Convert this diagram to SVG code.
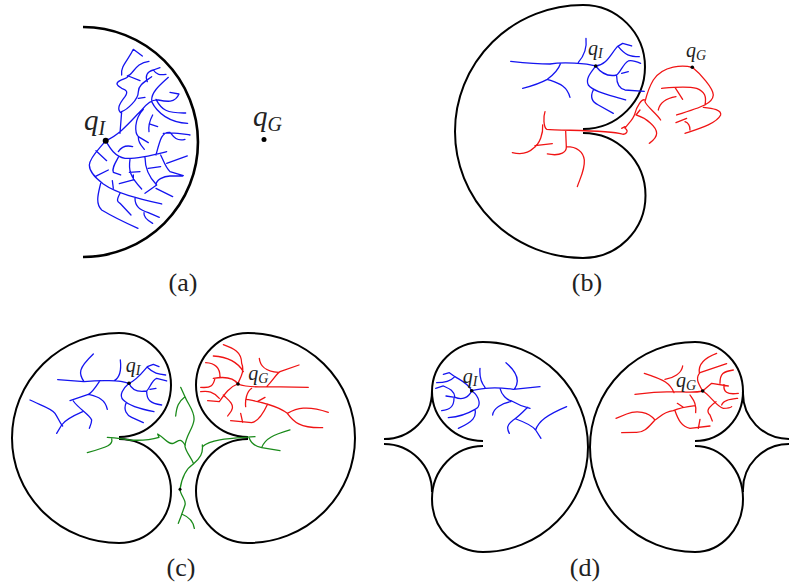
<svg xmlns="http://www.w3.org/2000/svg" width="789" height="585" viewBox="0 0 789 585">
<style>
.o{fill:none;stroke:#000;stroke-width:2;stroke-linecap:butt}
.t{fill:none;stroke-width:3.9;stroke-linecap:round;stroke-linejoin:round}
.b{stroke:#1414f0}.r{stroke:#f01414}.g{stroke:#1a8a1a}
.q,.l{font-family:"Liberation Serif",serif;fill:#222}
.q{font-style:italic}
.l{font-size:26px;text-anchor:middle}
</style>
<rect width="789" height="585" fill="#fff"/>

<g id="panel-a">
<path class="o" style="stroke-width:2.6" d="M83,27A115,115 0 0 1 83,257"/>
<path class="t b" transform="translate(70,20) scale(.3333)" d="M107,362C90,385 60,410 58,435C58,460 85,480 100,492C140,520 200,535 275,552M107,362C120,385 135,410 165,415C200,418 250,405 290,395M107,362C150,345 185,300 215,270C235,245 250,238 265,240C290,245 315,250 327,222L300,217M258,238C275,270 290,280 347,279M245,245C262,280 300,308 353,310M248,285C240,300 235,320 237,335M238,312L263,320M220,268C190,300 195,340 205,350L235,368M205,352C205,370 215,378 223,388M150,340L155,275M155,280C140,270 145,255 165,230C175,215 170,210 155,205C140,195 135,190 150,182C165,175 175,172 175,168L210,182M155,165C150,140 175,120 190,88L217,108M172,168C190,165 195,128 237,124M155,275C170,270 205,240 205,215C205,195 225,185 245,170M205,235L225,232M232,185C225,170 230,155 250,150L270,143M250,150C260,165 270,165 288,163M245,240C245,215 270,195 295,172M258,405C270,360 275,335 300,337C310,350 320,365 345,358M280,340C310,335 330,340 360,345M300,455C285,440 280,420 272,405M290,430L352,408M300,455L340,467M225,412C225,440 235,470 260,495M258,495C258,480 280,468 300,468L338,468M235,445L272,440M260,495L225,520M258,505L308,530M180,418C175,450 180,470 215,507M178,457L210,455M190,480L148,491M190,480L190,465M145,412C135,430 125,445 130,457L152,465M145,395C155,380 170,375 188,380M78,392L110,422M75,470L115,450M127,482L130,505M92,490C85,520 75,550 95,570C120,585 170,610 204,625M150,520C140,540 140,545 150,550L183,585M195,535C195,560 210,570 235,578L268,592M222,578C220,590 230,600 248,610"/>
<circle cx="105.700" cy="140.700" r="3"/>
<circle cx="264" cy="139.500" r="2.500"/>
<text class="q" x="84" y="130" font-size="29">q<tspan font-size="20" dy="5">I</tspan></text>
<text class="q" x="253" y="126" font-size="29">q<tspan font-size="20" dy="5">G</tspan></text>
<text class="l" x="183" y="291">(a)</text>
</g>

<g id="panel-b">
<path class="o" d="M583,129A62,62 0 0 0 583,5A128,126.500 0 0 0 583,258A62.500,62.500 0 0 0 583,133"/>
<path class="t b" transform="translate(450,0) scale(.3333)" d="M437,198C410,190 340,185 300,192C260,192 220,188 182,184M385,187C400,170 412,150 408,115M332,190C325,210 310,225 292,238C270,250 245,258 218,265M292,238C325,250 350,255 360,292M437,198C470,195 480,165 502,140L518,130L545,138M505,140C525,165 540,170 568,170M437,198C450,215 470,232 500,225C510,220 520,190 535,183C545,180 560,185 572,190M500,228C500,245 505,265 525,270L583,274M515,220L535,215M437,198C425,215 405,235 415,255C430,275 480,285 527,300M430,270C420,290 425,305 445,315L490,340"/>
<path class="t r" transform="translate(450,0) scale(.3333)" d="M727,202C700,195 640,195 610,240C595,265 590,285 585,305C590,320 620,340 632,360M727,202C750,220 790,265 790,285C788,310 760,320 680,345M765,315C770,290 765,275 740,265C710,258 670,262 635,265M675,262L698,298M678,290C650,295 630,305 625,330M760,322C790,325 815,330 812,345C800,370 750,385 705,400M710,355L678,368M705,365C720,370 720,385 720,390M585,300C575,295 560,320 555,340C550,360 530,375 525,385C540,395 525,405 515,402C480,390 330,392 290,388C280,380 280,350 285,335M570,330L558,345C590,355 620,380 620,400C620,415 605,425 598,430M525,380L515,385M278,375C280,400 270,430 250,445C230,465 205,462 187,458M255,437L307,431M347,392L349,440C350,455 335,470 292,462M350,440C380,440 400,455 403,480C405,510 390,535 382,560"/>
<circle cx="595.700" cy="66" r="1.800"/>
<circle cx="692.300" cy="67.300" r="1.800"/>
<text class="q" x="588" y="55" font-size="20">q<tspan font-size="14" dy="3">I</tspan></text>
<text class="q" x="686" y="57" font-size="20">q<tspan font-size="14" dy="3">G</tspan></text>
<text class="l" x="587" y="291">(b)</text>
</g>

<g id="panel-c">
<path class="o" d="M119,437A52,52 0 0 0 119,333A107,105 0 0 0 119,543A52,52 0 0 0 119,439"/>
<path class="o" d="M248,437A52,52 0 0 1 248,333A107,105 0 0 1 248,543A52,52 0 0 1 248,439"/>
<path class="t b" transform="translate(10,330) scale(.3333)" d="M357,160C330,150 270,150 222,155L143,149M313,152C325,145 335,125 331,90M222,155C205,130 205,115 250,72M270,152C255,175 245,190 235,193L180,212M190,213C205,235 240,255 245,270C245,280 240,290 238,295M235,193C260,200 285,205 292,238M218,245C195,255 165,270 155,285L140,310M60,210C90,225 125,235 135,250C145,265 150,280 158,288M357,160C380,150 395,130 412,110L430,103L447,110M412,112C430,130 445,133 467,135M357,160C365,180 380,188 410,183C420,175 425,150 440,145L470,153M410,183C410,210 420,220 455,225M420,178L438,175M357,160C340,175 325,195 340,210C360,230 395,238 432,245M348,220C340,240 350,255 365,262L400,278"/>
<path class="t r" transform="translate(170,330) scale(.3333)" d="M203,162C225,170 250,172 290,170L415,172M160,44C190,55 215,65 215,100C225,125 210,145 203,162M130,78C160,80 200,90 220,125M203,162C190,140 160,140 130,145M150,140C150,125 145,100 107,98M135,145C130,165 125,175 92,172M203,162C180,170 165,190 148,215L113,212M160,195C175,210 190,220 187,235C185,245 178,250 173,258M148,205C130,185 115,182 92,185M290,170C310,150 320,130 330,125L387,105M325,127C285,125 270,105 268,85M245,175C230,185 225,210 227,230M230,208C265,215 320,225 352,250C370,275 390,295 458,293M352,250C380,235 410,225 475,247M285,202L262,215M293,222C280,250 265,275 245,278L182,272M218,277L212,250"/>
<path class="t g" transform="translate(170,330) scale(.3333)" d="M32,172L45,200C55,225 75,245 72,270C70,295 45,320 45,350C50,370 65,385 70,400M45,200C25,215 20,230 17,258M70,402C90,385 100,370 97,345M97,350C125,325 190,325 255,320M70,402C50,415 35,445 30,478C30,495 50,510 45,525C40,540 35,555 25,580M35,552C55,560 70,575 73,595M238,325C245,345 260,350 275,353L330,362M275,353C285,325 310,315 360,300"/>
<path class="t g" transform="translate(10,330) scale(.3333)" d="M292,322C320,322 340,328 360,330C390,332 420,330 447,322L443,312C465,325 475,345 490,340C505,335 510,320 525,345M305,325C310,345 295,350 232,368"/>
<circle cx="129" cy="383.300" r="1.800"/>
<circle cx="238" cy="384" r="1.800"/>
<circle cx="180" cy="489.300" r="1.500"/>
<text class="q" x="125.700" y="372" font-size="20">q<tspan font-size="14" dy="3">I</tspan></text>
<text class="q" x="248.300" y="380" font-size="20">q<tspan font-size="14" dy="3">G</tspan></text>
<text class="l" x="181" y="576">(c)</text>
</g>

<g id="panel-d">
<path class="o" d="M483,441A51,49.500 0 0 1 483,342A105,105 0 0 1 483,552A51,53 0 0 1 483,446"/>
<path class="o" d="M695,441A48,49.500 0 0 0 695,342A105,105 0 0 0 695,552A48,53 0 0 0 695,446"/>
<path class="o" d="M384,439A48,48 0 0 0 432,391M384,444A48,48 0 0 1 432,492M789,439A46,46 0 0 1 743,391M789,444A46,46 0 0 0 743,492"/>
<path class="t b" transform="translate(380,340) scale(.3333)" d="M275,152C310,145 340,140 400,148L480,140M315,142C305,130 298,110 300,85M403,148C420,125 415,100 378,68M360,145C365,165 380,180 395,183C415,195 430,200 450,205M392,185C365,190 340,205 338,225M443,202C430,215 410,235 400,240C380,255 380,265 388,280M408,237C430,245 455,255 467,270L483,295M467,270C475,245 500,225 560,200M275,152C265,130 240,120 225,110L208,98L190,103M222,112C210,125 195,128 170,128M275,152C265,175 245,180 225,172L198,168M225,172C222,150 205,145 190,138L167,145M222,175C222,195 215,210 185,212M275,152C300,170 305,200 285,208C265,220 240,230 205,233M285,208C290,230 280,245 235,265"/>
<path class="t r" transform="translate(590,340) scale(.3333)" d="M338,153C310,160 280,155 250,155C200,155 170,158 135,163M252,158C240,130 225,120 163,100M225,118C250,115 275,100 278,78M338,153C325,130 315,115 330,98L410,71M328,98C325,75 340,55 380,40M338,153L365,130L415,138M390,130C390,100 400,95 430,90M402,135C400,155 410,165 445,160M338,153C360,165 380,200 400,205C410,205 420,205 425,200M395,195C400,180 420,178 443,175M378,185C360,200 345,210 360,225L367,243M300,165C310,180 320,190 317,218M316,197C290,200 265,205 250,212C220,215 205,235 195,240M262,190L280,202M195,240C175,215 140,210 110,222L78,235M195,240C180,255 165,280 135,277L95,278M255,212C265,240 275,260 300,265L360,258M325,265L330,238"/>
<circle cx="471.700" cy="390.700" r="1.800"/>
<circle cx="702.700" cy="391" r="1.800"/>
<text class="q" x="462.700" y="383" font-size="20">q<tspan font-size="14" dy="3">I</tspan></text>
<text class="q" x="676" y="387" font-size="20">q<tspan font-size="14" dy="3">G</tspan></text>
<text class="l" x="585" y="576">(d)</text>
</g>
</svg>
